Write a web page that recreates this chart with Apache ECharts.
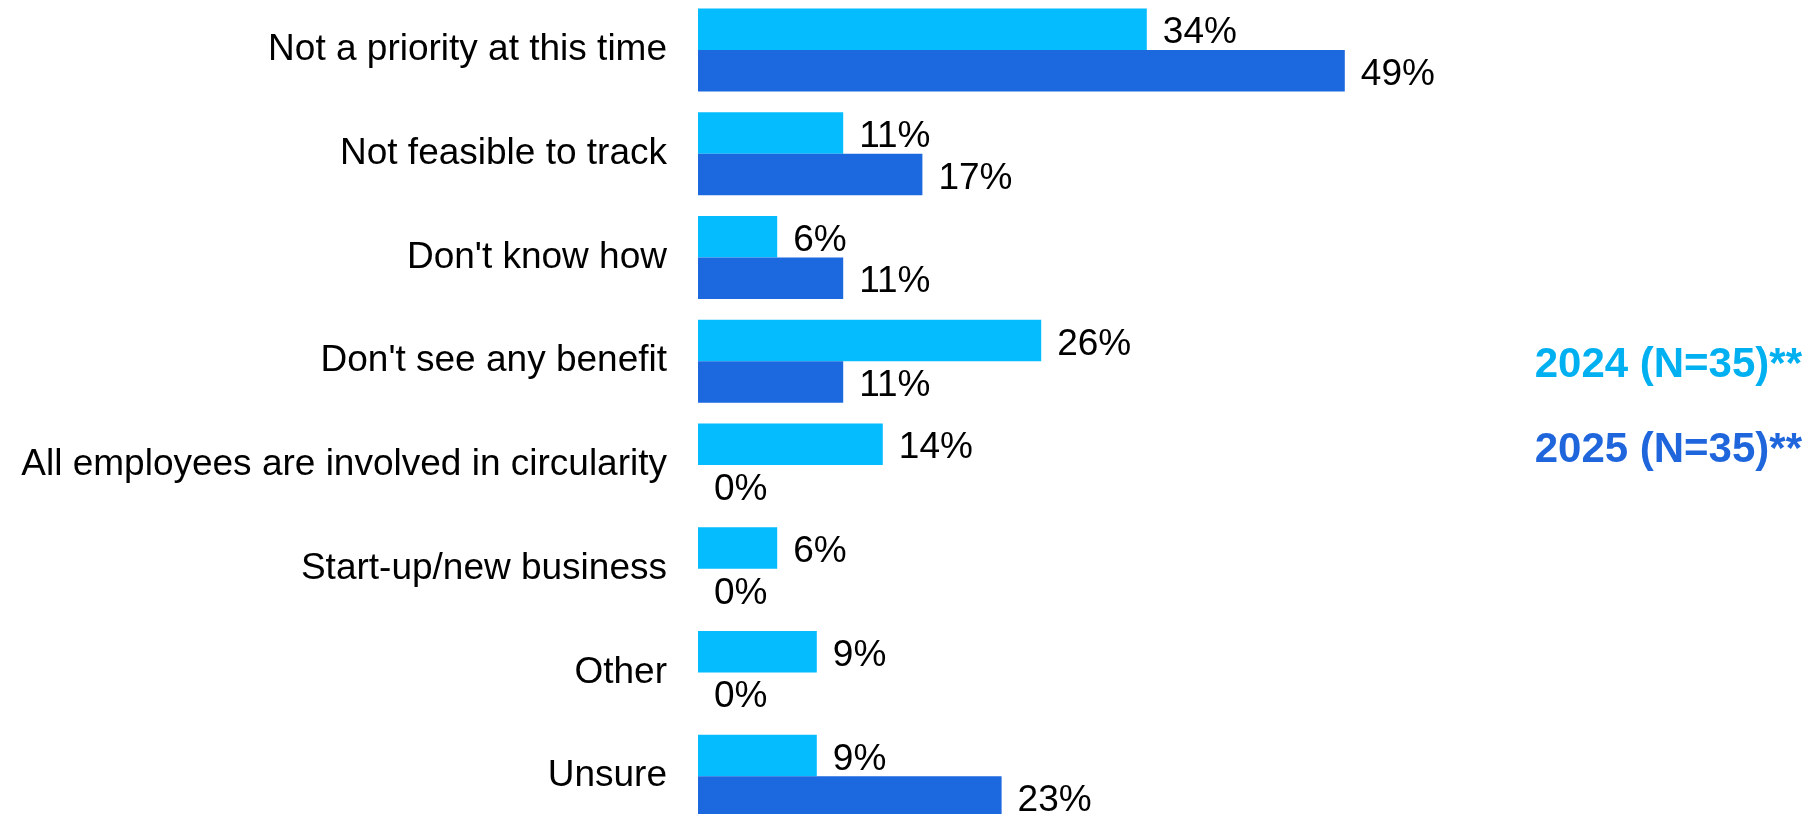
<!DOCTYPE html>
<html>
<head>
<meta charset="utf-8">
<style>
  html, body { margin: 0; padding: 0; background: #ffffff; }
  #chart { width: 1817px; height: 814px; }
</style>
<script src="https://cdn.jsdelivr.net/npm/echarts@6/dist/echarts.min.js"></script>
</head>
<body>
<div id="chart"></div>
<script>
// Reasons for not tracking circularity, share of respondents (%)
const categories = [
  'Not a priority at this time',
  'Not feasible to track',
  "Don't know how",
  "Don't see any benefit",
  'All employees are involved in circularity',
  'Start-up/new business',
  'Other',
  'Unsure'
];
const seriesNames = ['2024 (N=35)**', '2025 (N=35)**'];
const values2024 = [34, 11, 6, 26, 14, 6, 9, 9];
const values2025 = [49, 17, 11, 11, 0, 0, 0, 23];

const barColors = ['#05BCFF', '#1C68DF'];
const legendColors = ['#00B0F0', '#1F66DC'];
const fontFamily = '"Liberation Sans", Arial, Helvetica, sans-serif';

const chart = echarts.init(document.getElementById('chart'), null, { renderer: 'canvas' });

function barSeries(name, data, color) {
  return {
    name: name,
    type: 'bar',
    data: data,
    barGap: '0%',
    barCategoryGap: '20%',
    itemStyle: { color: color },
    label: {
      show: true,
      position: 'right',
      distance: 16,
      offset: [0, 4],
      formatter: '{c}%',
      color: '#000000',
      fontFamily: fontFamily,
      fontSize: 37
    },
    emphasis: { disabled: true }
  };
}

chart.setOption({
  backgroundColor: '#ffffff',
  animation: false,
  grid: {
    left: 698,
    top: -2,
    width: 1056,
    height: 830,
    containLabel: false,
    outerBoundsMode: 'none'
  },
  legend: {
    orient: 'vertical',
    right: 5,
    top: 338,
    align: 'right',
    icon: 'none',
    itemWidth: 0,
    itemHeight: 44,
    itemGap: 41,
    selectedMode: false,
    data: seriesNames.map((n, i) => ({
      name: n,
      textStyle: { color: legendColors[i] }
    })),
    textStyle: {
      fontFamily: fontFamily,
      fontSize: 42,
      fontWeight: 'bold',
      lineHeight: 44
    }
  },
  xAxis: {
    type: 'value',
    min: 0,
    max: 80,
    show: false
  },
  yAxis: {
    type: 'category',
    data: categories,
    inverse: true,
    axisLine: { show: false },
    axisTick: { show: false },
    splitLine: { show: false },
    axisLabel: {
      margin: 31,
      padding: [5, 0, 0, 0],
      color: '#000000',
      fontFamily: fontFamily,
      fontSize: 37
    }
  },
  series: [
    barSeries(seriesNames[0], values2024, barColors[0]),
    barSeries(seriesNames[1], values2025, barColors[1])
  ]
});
</script>
</body>
</html>
